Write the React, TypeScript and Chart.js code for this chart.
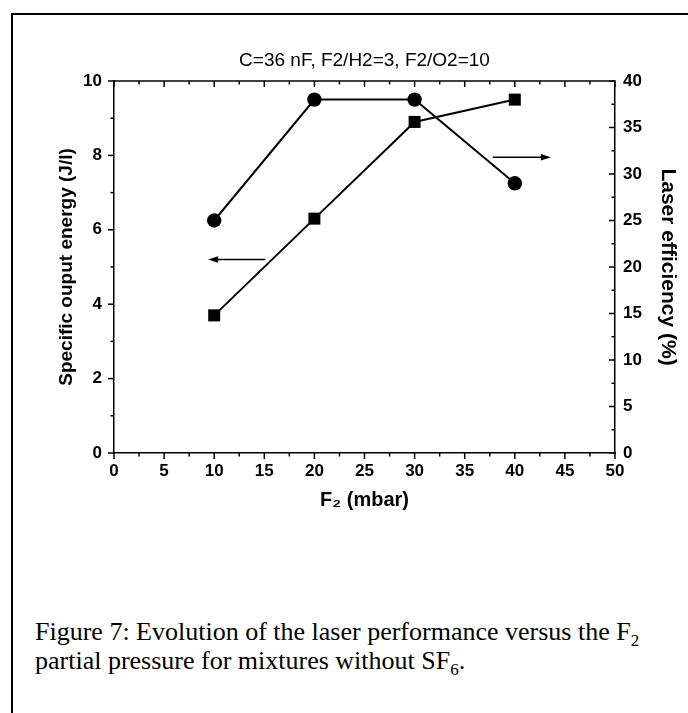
import React, { useEffect, useRef } from "react";
import { Chart, registerables } from "chart.js";

Chart.register(...registerables);

// ---- data ----
const pressures = [10, 20, 30, 40]; // F2 (mbar)
const specificEnergy = [3.7, 6.3, 8.9, 9.5]; // J/l (left axis, squares)
const laserEfficiency = [25, 38, 38, 29]; // % (right axis, circles)

const xTickValues = [0, 5, 10, 15, 20, 25, 30, 35, 40, 45, 50];
const leftTickValues = [0, 2, 4, 6, 8, 10];
const rightTickValues = [0, 5, 10, 15, 20, 25, 30, 35, 40];

// arrows showing which curve belongs to which axis
const leftArrowX = [15.1, 9.4]; // from -> to (points left)
const leftArrowY = [5.2, 5.2]; // on left axis
const rightArrowX = [37.8, 43.6]; // from -> to (points right)
const rightArrowY = [31.8, 31.8]; // on right axis

const titleText = "C=36 nF, F2/H2=3, F2/O2=10";
const xTitle = "F\u2082 (mbar)";
const yLeftTitle = "Specific ouput energy (J/l)";
const yRightTitle = "Laser efficiency (%)";

const FONT = "'Liberation Sans', Arial, Helvetica, sans-serif";

const frameTicksPlugin = {
  id: "frameTicks",
  afterDraw(chart: any) {
    const { ctx, chartArea: a, scales } = chart;
    const x = scales.x;
    const yl = scales.y;
    const yr = scales.y1;
    ctx.save();
    ctx.strokeStyle = "#000";
    ctx.fillStyle = "#000";
    ctx.lineWidth = 1.5;
    const line = (x1: number, y1: number, x2: number, y2: number) => {
      ctx.beginPath();
      ctx.moveTo(x1, y1);
      ctx.lineTo(x2, y2);
      ctx.stroke();
    };
    // top frame line
    line(a.left, a.top, a.right, a.top);
    // x ticks (bottom outward, top inward), minor halfway
    const xStep = xTickValues[1] - xTickValues[0];
    for (let i = 0; i < xTickValues.length; i++) {
      const v = xTickValues[i];
      const px = x.getPixelForValue(v);
      line(px, a.bottom, px, a.bottom + 6);
      line(px, a.top, px, a.top + 6);
      if (i < xTickValues.length - 1) {
        const m = x.getPixelForValue(v + xStep / 2);
        line(m, a.bottom, m, a.bottom + 3.5);
        line(m, a.top, m, a.top + 3.5);
      }
    }
    // left ticks outward
    const lStep = leftTickValues[1] - leftTickValues[0];
    for (let i = 0; i < leftTickValues.length; i++) {
      const v = leftTickValues[i];
      const py = yl.getPixelForValue(v);
      line(a.left - 6, py, a.left, py);
      if (i < leftTickValues.length - 1) {
        const m = yl.getPixelForValue(v + lStep / 2);
        line(a.left - 3.5, m, a.left, m);
      }
    }
    // right ticks inward
    const rStep = rightTickValues[1] - rightTickValues[0];
    for (let i = 0; i < rightTickValues.length; i++) {
      const v = rightTickValues[i];
      const py = yr.getPixelForValue(v);
      line(a.right - 6, py, a.right, py);
      if (i < rightTickValues.length - 1) {
        const m = yr.getPixelForValue(v + rStep / 2);
        line(a.right - 3.5, m, a.right, m);
      }
    }
    // arrows
    const arrow = (xs: number[], ys: number[], ys_scale: any) => {
      const x1 = x.getPixelForValue(xs[0]);
      const x2 = x.getPixelForValue(xs[1]);
      const y1 = ys_scale.getPixelForValue(ys[0]);
      const y2 = ys_scale.getPixelForValue(ys[1]);
      const ang = Math.atan2(y2 - y1, x2 - x1);
      const head = 10;
      const hw = 3.2;
      ctx.lineWidth = 1.5;
      line(x1, y1, x2 - Math.cos(ang) * head * 0.6, y2 - Math.sin(ang) * head * 0.6);
      ctx.beginPath();
      ctx.moveTo(x2, y2);
      ctx.lineTo(
        x2 - Math.cos(ang) * head + Math.sin(ang) * hw,
        y2 - Math.sin(ang) * head - Math.cos(ang) * hw
      );
      ctx.lineTo(
        x2 - Math.cos(ang) * head - Math.sin(ang) * hw,
        y2 - Math.sin(ang) * head + Math.cos(ang) * hw
      );
      ctx.closePath();
      ctx.fill();
    };
    arrow(leftArrowX, leftArrowY, yl);
    arrow(rightArrowX, rightArrowY, yr);
    ctx.restore();
  },
};

function LaserChart() {
  const ref = useRef<HTMLCanvasElement | null>(null);
  useEffect(() => {
    if (!ref.current) return;
    const chart = new Chart(ref.current, {
      type: "line",
      data: {
        datasets: [
          {
            label: "Specific output energy",
            data: pressures.map((p, i) => ({ x: p, y: specificEnergy[i] })),
            yAxisID: "y",
            borderColor: "#000",
            backgroundColor: "#000",
            borderWidth: 2,
            pointStyle: "rect",
            pointRadius: 8.5,
            pointBorderWidth: 0,
            pointBackgroundColor: "#000",
            tension: 0,
          },
          {
            label: "Laser efficiency",
            data: pressures.map((p, i) => ({ x: p, y: laserEfficiency[i] })),
            yAxisID: "y1",
            borderColor: "#000",
            backgroundColor: "#000",
            borderWidth: 2,
            pointStyle: "circle",
            pointRadius: 7.2,
            pointBorderWidth: 0,
            pointBackgroundColor: "#000",
            tension: 0,
          },
        ],
      },
      options: {
        animation: false,
        responsive: false,
        maintainAspectRatio: false,
        layout: { padding: 0 },
        plugins: {
          legend: { display: false },
          tooltip: { enabled: false },
          title: {
            display: true,
            text: titleText,
            fullSize: false,
            color: "#000",
            font: { family: FONT, size: 19, weight: "normal" },
            padding: { top: 49.6, bottom: 8.6 },
          },
        },
        scales: {
          x: {
            type: "linear",
            position: "bottom",
            min: 0,
            max: 50,
            afterBuildTicks: (s: any) => {
              s.ticks = xTickValues.map((v) => ({ value: v }));
            },
            afterFit: (s: any) => {
              s.height = 87;
            },
            grid: { display: false, drawTicks: false },
            border: { display: true, color: "#000", width: 1.5 },
            ticks: {
              color: "#000",
              padding: 8,
              font: { family: FONT, size: 17, weight: "bold" },
              maxRotation: 0,
            },
            title: {
              display: true,
              text: xTitle,
              color: "#000",
              font: { family: FONT, size: 20, weight: "bold" },
              padding: { top: 0, bottom: 28 },
            },
          },
          y: {
            type: "linear",
            position: "left",
            min: 0,
            max: 10,
            afterBuildTicks: (s: any) => {
              s.ticks = leftTickValues.map((v) => ({ value: v }));
            },
            afterFit: (s: any) => {
              s.width = 114;
            },
            grid: { display: false, drawTicks: false },
            border: { display: true, color: "#000", width: 1.5 },
            ticks: {
              color: "#000",
              padding: 12,
              font: { family: FONT, size: 17, weight: "bold" },
            },
            title: {
              display: true,
              text: yLeftTitle,
              color: "#000",
              font: { family: FONT, size: 19, weight: "bold" },
              padding: { top: 55, bottom: 0 },
            },
          },
          y1: {
            type: "linear",
            position: "right",
            min: 0,
            max: 40,
            afterBuildTicks: (s: any) => {
              s.ticks = rightTickValues.map((v) => ({ value: v }));
            },
            afterFit: (s: any) => {
              s.width = 73;
            },
            grid: { display: false, drawTicks: false },
            border: { display: true, color: "#000", width: 1.5 },
            ticks: {
              color: "#000",
              padding: 8,
              font: { family: FONT, size: 17, weight: "bold" },
            },
            title: {
              display: true,
              text: yRightTitle,
              color: "#000",
              font: { family: FONT, size: 21, weight: "bold" },
              padding: { top: 8, bottom: 0 },
            },
          },
        },
      } as any,
      plugins: [frameTicksPlugin],
    });
    return () => chart.destroy();
  }, []);
  return (
    <canvas
      ref={ref}
      width={688}
      height={540}
      style={{ position: "absolute", left: 0, top: 0, width: 688, height: 540 }}
    />
  );
}

export default function App() {
  return (
    <div
      style={{
        position: "fixed",
        left: 0,
        top: 0,
        width: 688,
        height: 713,
        overflow: "hidden",
        background: "#fff",
      }}
    >
      <div
        style={{
          position: "absolute",
          left: 11,
          top: 13,
          width: 800,
          height: 800,
          borderLeft: "2px solid #000",
          borderTop: "2px solid #000",
        }}
      />
      <LaserChart />
      <div
        style={{
          position: "absolute",
          left: 35,
          top: 617,
          fontFamily: "'Liberation Serif', 'Times New Roman', serif",
          fontSize: 26,
          lineHeight: "29px",
          color: "#000",
          whiteSpace: "nowrap",
        }}
      >
        Figure 7: Evolution of the laser performance versus the F<sub style={{ fontSize: 17, lineHeight: 0 }}>2</sub>
        <br />
        partial pressure for mixtures without SF<sub style={{ fontSize: 17, lineHeight: 0 }}>6</sub>.
      </div>
    </div>
  );
}
